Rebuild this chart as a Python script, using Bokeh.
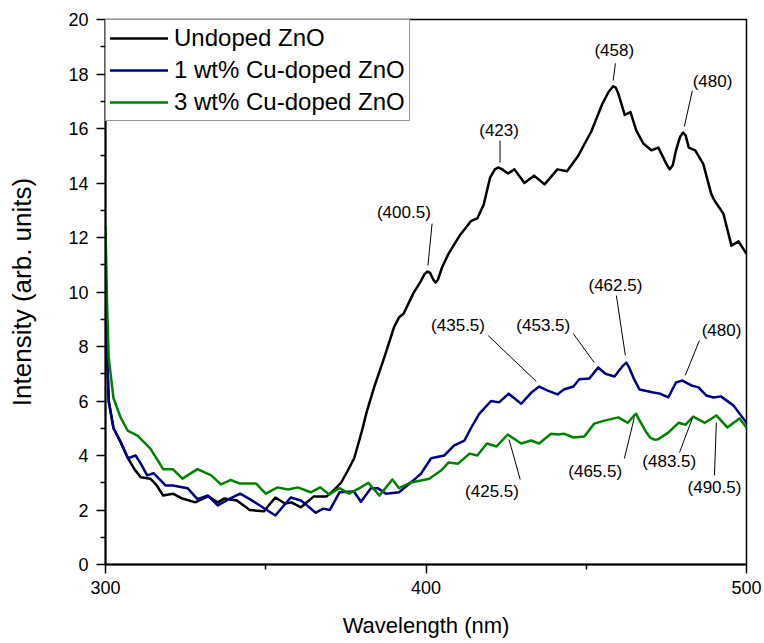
from bokeh.plotting import figure
from bokeh.models import Range1d, Legend, LegendItem, ColumnDataSource, FixedTicker
from bokeh.core.properties import value
from bokeh.embed import file_html
from bokeh.resources import INLINE

# ---------------- data ----------------
x_ticks = [300, 400, 500]
x_minor = [350, 450]
y_ticks = [0, 2, 4, 6, 8, 10, 12, 14, 16, 18, 20]
y_minor = [1, 3, 5, 7, 9, 11, 13, 15, 17, 19]

series_names = ["Undoped ZnO", "1 wt% Cu-doped ZnO", "3 wt% Cu-doped ZnO"]

undoped_wl = [300, 301, 302.5, 304.7, 307, 309, 311, 314, 316, 318, 321, 324, 328, 332, 335,
              337, 341, 345, 349.4, 353, 356, 358, 361, 365, 369, 371, 373.5, 375.6, 377.6, 380,
              381.5, 383.8, 387, 390, 391.6, 393, 396, 398.4, 399.5, 400.5, 401.3, 402.3, 403, 403.7,
              405, 407, 410.5, 414,
              416, 418, 420, 421.5, 422.5, 423.8, 425.6, 427.6, 430.7, 433.7, 437, 441, 444, 447.5, 451.6,
              455, 457, 458.4, 459.2,
              460, 462, 463.8, 465.6, 467.8, 470.3, 472.5, 475, 476, 477, 478, 479.3, 480.2, 481, 482,
              484, 486.5, 489, 490,
              492.8, 495.3, 497.5, 500]
undoped_int = [9.4, 6.0, 5.0, 4.5, 3.9, 3.5, 3.2, 3.15, 2.9, 2.53, 2.6, 2.42, 2.28, 2.5, 2.28,
               2.42, 2.35, 2.0, 1.95, 2.46, 2.24, 2.28, 2.1, 2.5, 2.5, 2.7, 3.0, 3.45, 3.9, 4.9,
               5.6, 6.5, 7.6, 8.7, 9.07, 9.2, 9.94, 10.4, 10.65, 10.75, 10.7, 10.45, 10.35, 10.45,
               10.9, 11.4, 12.07, 12.6,
               12.7, 13.2, 14.2, 14.5, 14.57, 14.5, 14.35, 14.5, 14.0, 14.27, 13.95, 14.5, 14.43, 15.0, 15.9,
               16.9, 17.35, 17.55, 17.5,
               17.28, 16.5, 16.6, 15.93, 15.45, 15.2, 15.3, 14.7, 14.5, 14.65, 15.2, 15.7, 15.85, 15.75, 15.3,
               15.2, 14.7, 13.6, 13.36,
               12.87, 11.7, 11.86, 11.4]

cu1_wl = [300, 301, 302.5, 304.7, 307, 309.4, 311, 313, 315, 318.7, 321, 325.6, 328.7, 332, 335,
          338.5, 342, 345, 349, 353, 357.8, 361, 365.6, 368, 370, 373, 377.5, 379.7, 382.8, 385,
          387.5, 391.6, 396, 398.4, 401.6, 405.7, 408.8, 412, 414, 416.6, 420.3, 422.8, 425.8, 429.7, 432.8,
          435.3, 438, 441, 443, 446, 447.8, 451, 453.7, 456, 458.8, 461.5, 462.5, 463.3, 464.7, 466.6,
          471, 473, 475.6, 478, 480, 482.8, 485, 487.5, 489.7, 492, 496, 500]
cu1_int = [9.6, 6.0, 5.0, 4.5, 3.9, 4.0, 3.7, 3.27, 3.35, 2.9, 2.9, 2.8, 2.4, 2.53, 2.17,
           2.4, 2.6, 2.4, 2.1, 1.8, 2.46, 2.35, 1.9, 2.05, 2.0, 2.65, 2.68, 2.3, 2.8, 2.8,
           2.6, 2.65, 3.08, 3.33, 3.9, 4.0, 4.37, 4.55, 5.0, 5.53, 6.0, 5.95, 6.27, 5.9, 6.3,
           6.53, 6.38, 6.24, 6.42, 6.53, 6.8, 6.83, 7.23, 7.0, 6.9, 7.3, 7.41, 7.25, 6.86, 6.42,
           6.31, 6.27, 6.13, 6.68, 6.75, 6.57, 6.5, 6.2, 6.13, 6.17, 5.83, 5.2]

cu3_wl = [300, 300.5, 301, 302.5, 304.7, 307, 310, 314, 318, 321, 324, 328.7, 333, 336, 339,
          342, 347, 350, 353.7, 357, 360, 364, 367, 369.8, 373, 376, 379.7, 382, 385.5, 389.5,
          391.6, 395, 398.4, 401, 404.7, 407, 410, 413.6, 416, 419, 422, 425.5, 429.7, 432.8, 435.3,
          439, 441, 443, 446, 449.4, 452.5, 455.7, 460, 463, 464.8, 465.6, 466.3, 468.8, 470, 471.3,
          472.5, 475.6, 478.8, 481, 483.4, 487, 490.6, 494, 497.8, 500]
cu3_int = [12.4, 9.5, 7.6, 6.1, 5.4, 4.9, 4.73, 4.25, 3.5, 3.5, 3.15, 3.5, 3.27, 2.94, 3.1,
           2.97, 2.97, 2.6, 2.83, 2.75, 2.83, 2.65, 2.83, 2.57, 2.8, 2.6, 2.83, 3.0, 2.53, 3.12,
           2.8, 3.0, 3.08, 3.15, 3.45, 3.74, 3.7, 4.07, 4.0, 4.44, 4.33, 4.77, 4.44, 4.55, 4.44,
           4.8, 4.77, 4.8, 4.66, 4.7, 5.17, 5.28, 5.4, 5.2, 5.45, 5.53, 5.35, 4.84, 4.65, 4.58,
           4.6, 4.84, 5.2, 5.13, 5.43, 5.2, 5.47, 5.03, 5.36, 5.03]

peak_labels = ["(400.5)", "(423)", "(458)", "(480)", "(435.5)", "(453.5)", "(462.5)", "(480)",
               "(425.5)", "(465.5)", "(483.5)", "(490.5)"]

# ---------------- annotation layout (data coords) ----------------
lab_x = [393.1, 422.8, 458.75, 489.4, 410.0, 436.6, 459.1, 492.2, 420.6, 452.8, 475.9, 490.0]
lab_y = [12.92, 15.93, 18.86, 17.72, 8.77, 8.77, 10.24, 8.59, 2.68, 3.41, 3.78, 2.83]
lead_x0 = [401.9, 423.1, 459.1, 483.1, 419.4, 445.9, 459.4, 485.3, 429.4, 461.9, 479.1, 490.0]
lead_y0 = [12.51, 15.56, 18.39, 17.39, 8.40, 8.48, 9.87, 8.22, 3.12, 3.89, 4.11, 3.27]
lead_x1 = [400.6, 423.1, 458.4, 480.6, 434.4, 452.5, 462.2, 480.9, 425.9, 465.0, 483.1, 490.6]
lead_y1 = [10.97, 14.75, 17.76, 16.07, 6.72, 7.41, 7.67, 6.94, 4.59, 5.39, 5.36, 5.21]

FONT = "Liberation Sans"

p = figure(width=764, height=643, x_range=Range1d(300, 500), y_range=Range1d(0, 20),
           output_backend="svg", toolbar_location=None,
           min_border_left=105, min_border_right=18, min_border_top=19, min_border_bottom=79)
p.xgrid.visible = False
p.ygrid.visible = False
p.outline_line_color = "black"
p.outline_line_width = 1.5
p.background_fill_color = "white"
p.border_fill_color = "white"

r1 = p.line(undoped_wl, undoped_int, line_color="#000000", line_width=2.5,
            line_join="round", line_cap="round")
r2 = p.line(cu1_wl, cu1_int, line_color="#000080", line_width=2.5,
            line_join="round", line_cap="round")
r3 = p.line(cu3_wl, cu3_int, line_color="#008000", line_width=2.5,
            line_join="round", line_cap="round")

lead_src = ColumnDataSource(dict(x0=lead_x0, y0=lead_y0, x1=lead_x1, y1=lead_y1))
p.segment(x0="x0", y0="y0", x1="x1", y1="y1", source=lead_src, line_color="#000000", line_width=1)

lab_src = ColumnDataSource(dict(x=lab_x, y=lab_y, t=peak_labels))
p.text(x="x", y="y", text="t", source=lab_src, text_font=value(FONT), text_font_size="17px",
       text_align="center", text_baseline="middle", text_color="#000000")

for ax in (p.xaxis[0], p.yaxis[0]):
    ax.axis_line_width = 2
    ax.axis_line_color = "black"
    ax.major_tick_line_width = 1.5
    ax.minor_tick_line_width = 1.5
    ax.major_tick_in = 0
    ax.major_tick_out = 9
    ax.minor_tick_in = 0
    ax.minor_tick_out = 5
    ax.major_label_text_font = FONT
    ax.major_label_text_font_size = "18px"
    ax.major_label_text_color = "black"
    ax.axis_label_text_font = FONT
    ax.axis_label_text_font_style = "normal"
    ax.axis_label_text_color = "black"

p.xaxis.ticker = FixedTicker(ticks=x_ticks, minor_ticks=x_minor)
p.yaxis.ticker = FixedTicker(ticks=y_ticks, minor_ticks=y_minor)
p.xaxis.axis_label = "Wavelength (nm)"
p.yaxis.axis_label = "Intensity (arb. units)"
p.xaxis.axis_label_text_font_size = "22px"
p.yaxis.axis_label_text_font_size = "26px"
p.xaxis.major_label_standoff = 7
p.yaxis.major_label_standoff = 8
p.xaxis.axis_label_standoff = 16
p.yaxis.axis_label_standoff = 28

legend = Legend(items=[LegendItem(label=series_names[0], renderers=[r1]),
                       LegendItem(label=series_names[1], renderers=[r2]),
                       LegendItem(label=series_names[2], renderers=[r3])],
                location=(0, 443), padding=4, spacing=4, margin=0,
                glyph_width=58, glyph_height=26, label_height=26, label_standoff=6,
                label_text_font=FONT, label_text_font_size="24px", label_text_color="black",
                border_line_color="#333333", border_line_width=1,
                background_fill_color="white", background_fill_alpha=1.0)
p.add_layout(legend)

open("out.html", "w").write(file_html(p, INLINE))
